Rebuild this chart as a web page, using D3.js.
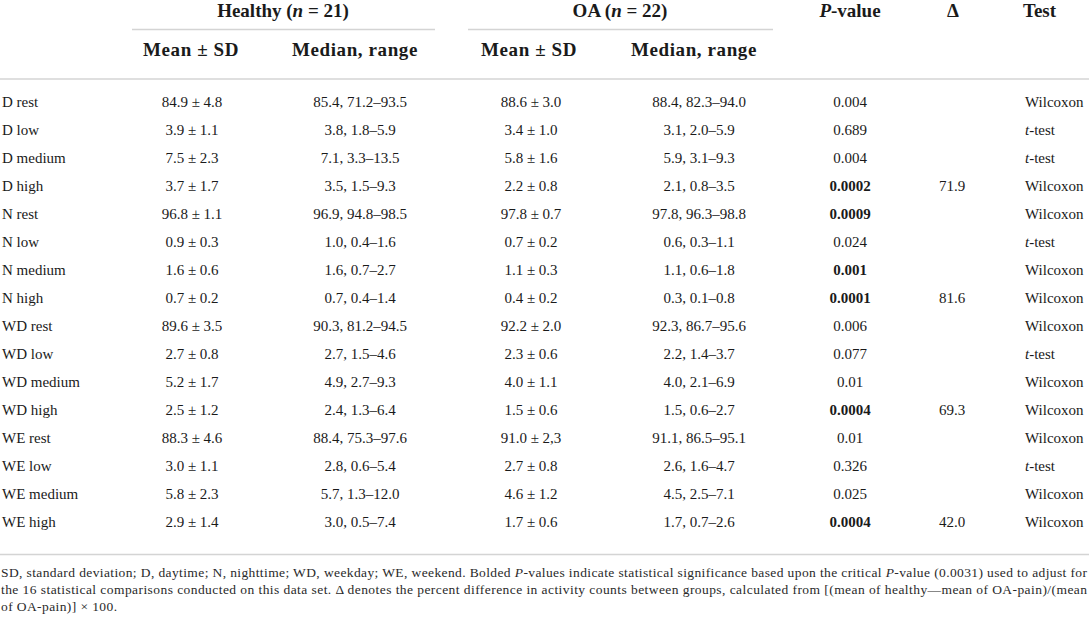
<!DOCTYPE html>
<html><head><meta charset="utf-8">
<script src="https://cdn.jsdelivr.net/npm/d3@7"></script>
<style>
html,body{margin:0;padding:0;background:#fff;}
svg, svg text{font-family:'Liberation Serif','DejaVu Serif',serif;}
</style></head>
<body><svg id="c" width="1089" height="624"></svg>
<script>
const labels = ["D rest","D low","D medium","D high","N rest","N low","N medium","N high","WD rest","WD low","WD medium","WD high","WE rest","WE low","WE medium","WE high"];
const healthyMean = ["84.9 ± 4.8","3.9 ± 1.1","7.5 ± 2.3","3.7 ± 1.7","96.8 ± 1.1","0.9 ± 0.3","1.6 ± 0.6","0.7 ± 0.2","89.6 ± 3.5","2.7 ± 0.8","5.2 ± 1.7","2.5 ± 1.2","88.3 ± 4.6","3.0 ± 1.1","5.8 ± 2.3","2.9 ± 1.4"];
const healthyMedian = ["85.4, 71.2–93.5","3.8, 1.8–5.9","7.1, 3.3–13.5","3.5, 1.5–9.3","96.9, 94.8–98.5","1.0, 0.4–1.6","1.6, 0.7–2.7","0.7, 0.4–1.4","90.3, 81.2–94.5","2.7, 1.5–4.6","4.9, 2.7–9.3","2.4, 1.3–6.4","88.4, 75.3–97.6","2.8, 0.6–5.4","5.7, 1.3–12.0","3.0, 0.5–7.4"];
const oaMean = ["88.6 ± 3.0","3.4 ± 1.0","5.8 ± 1.6","2.2 ± 0.8","97.8 ± 0.7","0.7 ± 0.2","1.1 ± 0.3","0.4 ± 0.2","92.2 ± 2.0","2.3 ± 0.6","4.0 ± 1.1","1.5 ± 0.6","91.0 ± 2,3","2.7 ± 0.8","4.6 ± 1.2","1.7 ± 0.6"];
const oaMedian = ["88.4, 82.3–94.0","3.1, 2.0–5.9","5.9, 3.1–9.3","2.1, 0.8–3.5","97.8, 96.3–98.8","0.6, 0.3–1.1","1.1, 0.6–1.8","0.3, 0.1–0.8","92.3, 86.7–95.6","2.2, 1.4–3.7","4.0, 2.1–6.9","1.5, 0.6–2.7","91.1, 86.5–95.1","2.6, 1.6–4.7","4.5, 2.5–7.1","1.7, 0.7–2.6"];
const pValues = ["0.004","0.689","0.004","0.0002","0.0009","0.024","0.001","0.0001","0.006","0.077","0.01","0.0004","0.01","0.326","0.025","0.0004"];
const pBold = [false,false,false,true,true,false,true,true,false,false,false,true,false,false,false,true];
const deltas = ["","","","71.9","","","","81.6","","","","69.3","","","","42.0"];
const tests = ["Wilcoxon","t-test","t-test","Wilcoxon","Wilcoxon","t-test","Wilcoxon","Wilcoxon","Wilcoxon","t-test","Wilcoxon","Wilcoxon","Wilcoxon","t-test","Wilcoxon","Wilcoxon"];
const footLines = [
  [["SD, standard deviation; D, daytime; N, nighttime; WD, weekday; WE, weekend. Bolded ",0],["P",1],["-values indicate statistical significance based upon the critical ",0],["P",1],["-value (0.0031) used to adjust for",0]],
  [["the 16 statistical comparisons conducted on this data set. Δ denotes the percent difference in activity counts between groups, calculated from [(mean of healthy—mean of OA-pain)/(mean",0]],
  [["of OA-pain)] × 100.",0]]
];

const FONT = "'Liberation Serif','DejaVu Serif',serif";
const svg = d3.select("#c").attr("font-family", FONT);
const W = 1089;
const y = d3.scaleLinear().domain([0, labels.length - 1]).range([107, 527]);
const colX = {label: 2, hMean: 192, hMed: 360, oMean: 531, oMed: 699, p: 850, d: 952, test: 1025};
const lineColor = "#d4d4d4";
const ink = "#1a1a1a";

svg.append("line").attr("x1",132).attr("x2",435).attr("y1",29.5).attr("y2",29.5).attr("stroke",lineColor).attr("stroke-width",1.5);
svg.append("line").attr("x1",468).attr("x2",773).attr("y1",29.5).attr("y2",29.5).attr("stroke",lineColor).attr("stroke-width",1.5);
svg.append("line").attr("x1",0).attr("x2",W).attr("y1",79).attr("y2",79).attr("stroke",lineColor).attr("stroke-width",1.5);
svg.append("line").attr("x1",0).attr("x2",W).attr("y1",554.5).attr("y2",554.5).attr("stroke",lineColor).attr("stroke-width",1.5);

function rich(sel, parts){
  parts.forEach(([t,it]) => { const s = sel.append("tspan").text(t); if(it) s.attr("font-style","italic"); });
  return sel;
}
const head = svg.append("g").attr("font-family",FONT).attr("font-weight","bold").attr("font-size",19).attr("fill",ink);
rich(head.append("text").attr("x",283).attr("y",17).attr("text-anchor","middle"), [["Healthy (",0],["n",1],[" = 21)",0]]);
rich(head.append("text").attr("x",620).attr("y",17).attr("text-anchor","middle"), [["OA (",0],["n",1],[" = 22)",0]]);
rich(head.append("text").attr("x",850).attr("y",17).attr("text-anchor","middle"), [["P",1],["-value",0]]);
head.append("text").attr("x",953).attr("y",17).attr("text-anchor","middle").text("Δ");
head.append("text").attr("x",1023).attr("y",17).text("Test");
[[191,"Mean ± SD"],[355,"Median, range"],[529,"Mean ± SD"],[694,"Median, range"]].forEach(([x,t]) => {
  head.append("text").attr("x",x).attr("y",56).attr("text-anchor","middle").attr("letter-spacing",0.6).text(t);
});

const body = svg.append("g").attr("font-family",FONT).attr("font-size",15).attr("fill",ink);
const rows = body.selectAll("g.row").data(labels.map((l,i)=>i)).join("g").attr("class","row")
  .attr("transform", i => `translate(0,${y(i)})`);
rows.append("text").attr("x",colX.label).text(i => labels[i]);
rows.append("text").attr("x",colX.hMean).attr("text-anchor","middle").text(i => healthyMean[i]);
rows.append("text").attr("x",colX.hMed).attr("text-anchor","middle").text(i => healthyMedian[i]);
rows.append("text").attr("x",colX.oMean).attr("text-anchor","middle").text(i => oaMean[i]);
rows.append("text").attr("x",colX.oMed).attr("text-anchor","middle").text(i => oaMedian[i]);
rows.append("text").attr("x",colX.p).attr("text-anchor","middle").attr("font-weight", i => pBold[i] ? "bold" : "normal").text(i => pValues[i]);
rows.append("text").attr("x",colX.d).attr("text-anchor","middle").text(i => deltas[i]);
rows.append("text").attr("x",colX.test).each(function(i){
  const t = d3.select(this);
  if (tests[i] === "t-test") { t.append("tspan").attr("font-style","italic").text("t"); t.append("tspan").text("-test"); }
  else t.text(tests[i]);
});

const foot = svg.append("g").attr("font-family",FONT).attr("font-size",13.5).attr("fill","#2a2a2a");
const fy = [577, 594, 611];
const fLen = [1086, 1086, 116];
footLines.forEach((parts, k) => {
  const t = foot.append("text").attr("x",1).attr("y",fy[k]);
  rich(t, parts);
  t.attr("textLength", fLen[k]).attr("lengthAdjust","spacing");
});
</script></body></html>
